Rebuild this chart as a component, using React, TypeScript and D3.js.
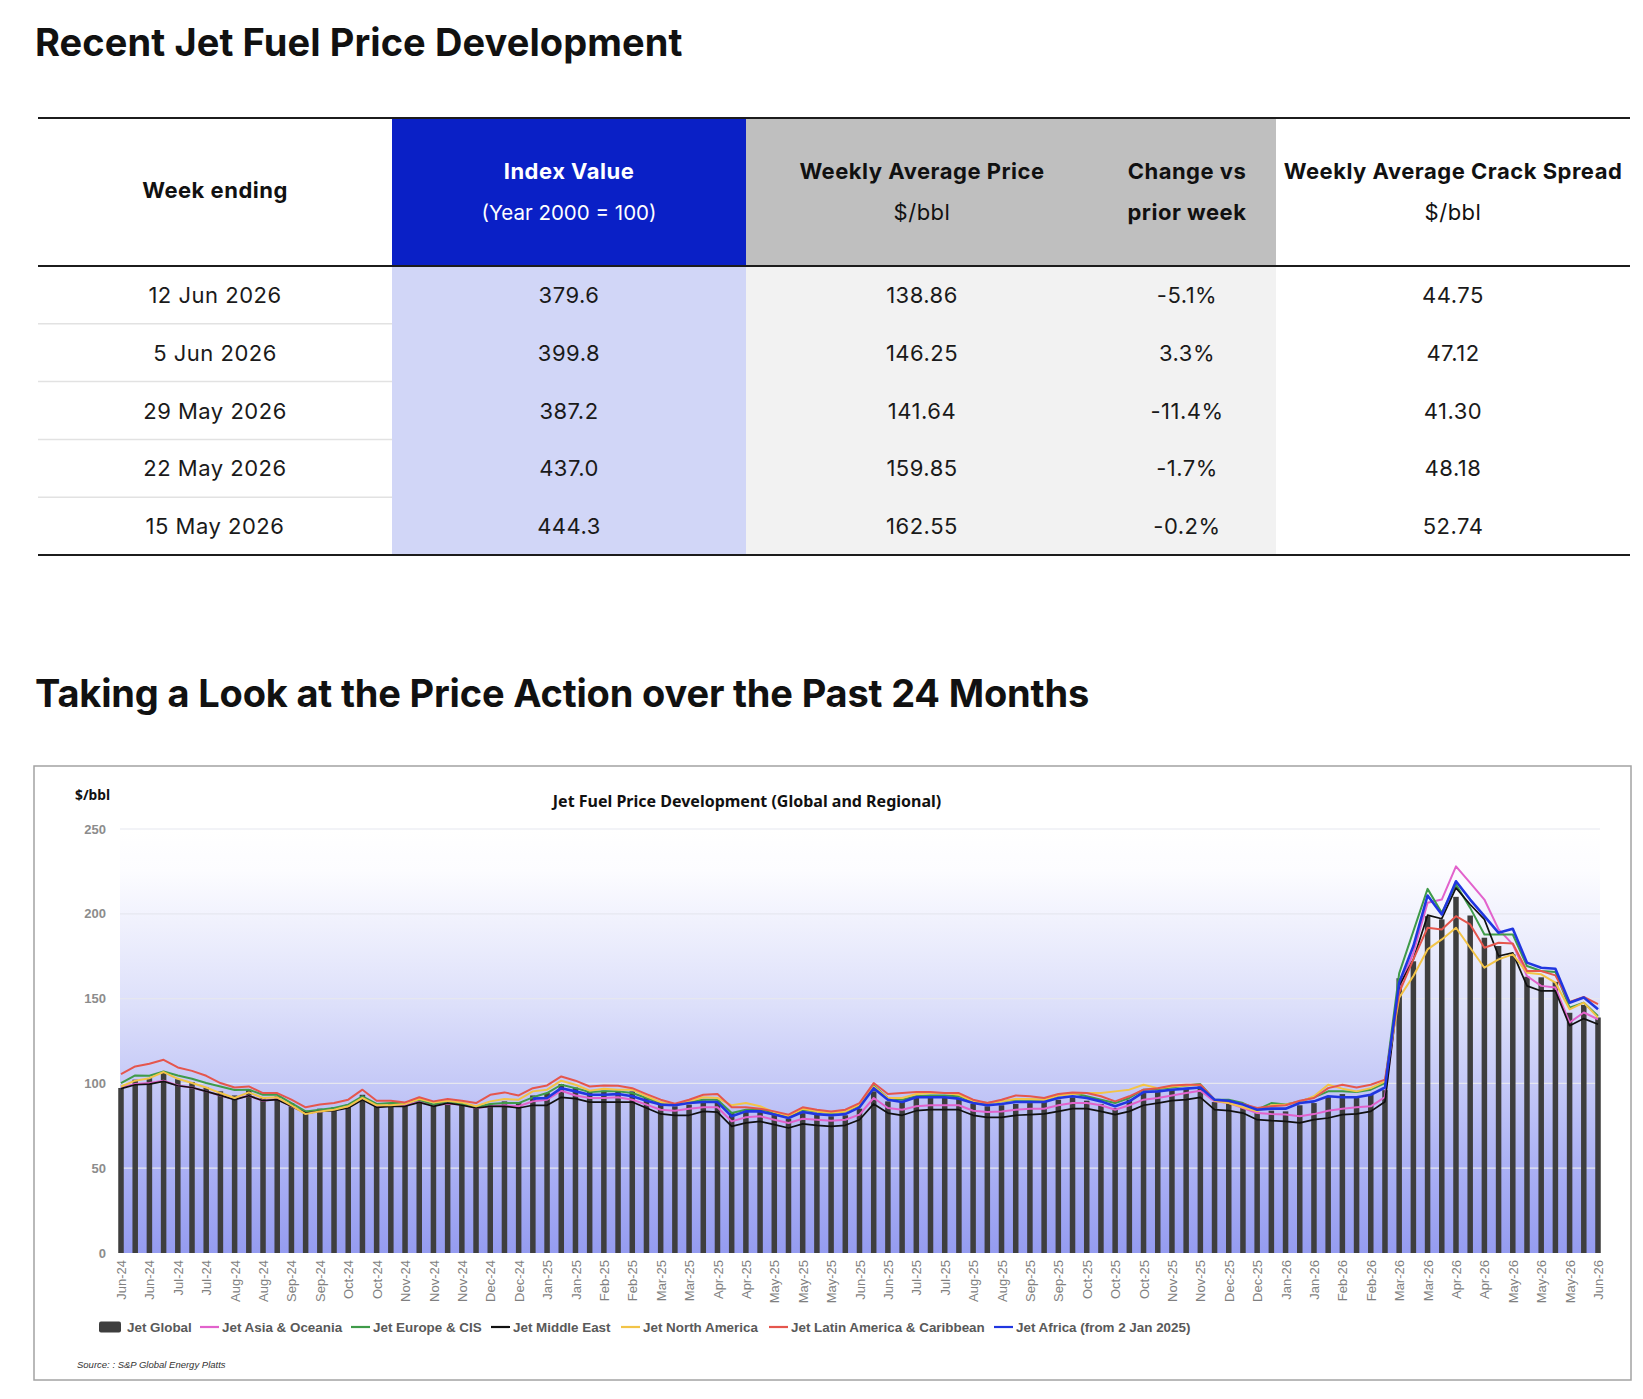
import React, { useEffect, useRef } from "react";
import * as d3 from "d3";

// ---- table data ----
const tableWeeks = ["12 Jun 2026", "5 Jun 2026", "29 May 2026", "22 May 2026", "15 May 2026"];
const tableIndex = [379.6, 399.8, 387.2, 437.0, 444.3];
const tablePrice = [138.86, 146.25, 141.64, 159.85, 162.55];
const tableChange = [-5.1, 3.3, -11.4, -1.7, -0.2];
const tableCrack = [44.75, 47.12, 41.3, 48.18, 52.74];

// ---- chart data (weekly, 14 Jun 2024 .. 12 Jun 2026) ----
const weekLabels = [
  "Jun-24", "Jun-24", "Jun-24", "Jul-24", "Jul-24", "Jul-24", "Jul-24",
  "Aug-24", "Aug-24", "Aug-24", "Aug-24", "Aug-24", "Sep-24", "Sep-24", "Sep-24", "Sep-24",
  "Oct-24", "Oct-24", "Oct-24", "Oct-24", "Nov-24", "Nov-24", "Nov-24", "Nov-24", "Nov-24",
  "Dec-24", "Dec-24", "Dec-24", "Dec-24", "Jan-25", "Jan-25", "Jan-25", "Jan-25", "Jan-25",
  "Feb-25", "Feb-25", "Feb-25", "Feb-25", "Mar-25", "Mar-25", "Mar-25", "Mar-25",
  "Apr-25", "Apr-25", "Apr-25", "Apr-25", "May-25", "May-25", "May-25", "May-25", "May-25",
  "Jun-25", "Jun-25", "Jun-25", "Jun-25", "Jul-25", "Jul-25", "Jul-25", "Jul-25",
  "Aug-25", "Aug-25", "Aug-25", "Aug-25", "Aug-25", "Sep-25", "Sep-25", "Sep-25", "Sep-25",
  "Oct-25", "Oct-25", "Oct-25", "Oct-25", "Oct-25", "Nov-25", "Nov-25", "Nov-25", "Nov-25",
  "Dec-25", "Dec-25", "Dec-25", "Dec-25", "Jan-26", "Jan-26", "Jan-26", "Jan-26", "Jan-26",
  "Feb-26", "Feb-26", "Feb-26", "Feb-26", "Mar-26", "Mar-26", "Mar-26", "Mar-26",
  "Apr-26", "Apr-26", "Apr-26", "Apr-26", "May-26", "May-26", "May-26", "May-26", "May-26",
  "Jun-26", "Jun-26",
];

const jetGlobal = [
  97.3, 102.2, 103.1, 106.1, 102.5, 100.8, 97.6, 95.3, 92.9, 96.3, 91.8, 92.4, 88.4, 83.9, 85.1, 85.9, 87.5, 93.3, 88.4, 88.4, 88.4, 89.4, 87.1,
  88.4, 87.5, 85.9, 87.5, 89.4, 89.0, 92.9, 94.3, 99.6, 97.6, 94.9, 95.7, 95.7, 95.3, 91.4, 87.9, 86.5, 87.5, 89.8, 89.8, 82.5, 83.9, 84.5,
  81.6, 79.2, 82.5, 81.9, 80.6, 81.2, 85.1, 95.3, 89.4, 89.0, 91.4, 91.8, 91.4, 91.0, 87.9, 86.5, 87.1, 87.9, 88.4, 89.0, 90.4, 91.8,
  89.8, 87.9, 85.5, 90.4, 94.3, 95.7, 96.3, 97.2, 98.2, 89.0, 89.0, 85.9, 82.5, 83.9, 83.5, 87.1, 88.4, 92.4, 93.7, 92.4, 93.7, 96.0,
  162.0, 172.0, 198.6, 196.7, 210.0, 199.0, 185.9, 181.0, 176.0, 162.9, 162.55, 159.85, 141.64, 146.25, 138.86,
];

const jetAsia = [
  97.6, 99.6, 100.2, 101.6, 98.8, 97.6, 95.3, 92.9, 90.8, 92.7, 89.8, 90.8, 86.5, 82.5, 83.5, 84.3, 85.9, 90.8, 86.3, 86.9, 87.1, 89.0, 87.1,
  88.0, 87.5, 85.5, 86.5, 87.1, 86.5, 89.4, 90.4, 95.7, 92.9, 91.4, 91.4, 91.8, 90.4, 87.5, 84.5, 83.9, 85.1, 85.9, 85.9, 77.6, 80.0, 80.6,
  78.6, 76.7, 79.2, 78.6, 78.0, 78.6, 81.6, 91.4, 85.5, 84.5, 86.5, 87.1, 87.1, 87.1, 83.9, 83.1, 83.5, 84.5, 85.1, 85.1, 87.1, 88.4,
  88.4, 87.1, 84.5, 87.1, 90.4, 91.4, 92.9, 94.3, 95.7, 89.4, 88.4, 85.5, 82.5, 81.9, 81.6, 80.6, 81.9, 83.9, 85.1, 85.9, 86.5, 92.0,
  156.5, 177.0, 206.5, 208.4, 228.0, 218.2, 208.4, 190.8, 182.0, 163.3, 157.5, 156.5, 135.9, 141.8, 137.8,
];

const jetEurope = [
  100.2, 104.7, 104.5, 107.0, 104.7, 102.7, 100.2, 98.2, 96.1, 96.3, 93.3, 93.3, 88.4, 83.5, 84.5, 85.5, 87.5, 92.4, 87.9, 88.4, 88.4, 90.4, 87.5,
  89.4, 87.9, 85.9, 87.9, 88.4, 88.4, 91.8, 94.3, 99.2, 97.2, 94.9, 95.3, 95.3, 94.3, 91.4, 88.4, 87.1, 89.0, 90.4, 90.4, 82.5, 84.5, 84.9,
  82.5, 80.6, 84.5, 83.5, 82.5, 83.5, 87.1, 98.8, 91.4, 90.4, 92.4, 92.9, 92.9, 92.4, 89.4, 88.4, 89.4, 90.4, 90.4, 90.4, 92.9, 94.3,
  92.4, 90.4, 88.4, 91.4, 96.3, 96.7, 97.6, 98.8, 99.6, 90.4, 90.4, 88.4, 84.5, 88.4, 87.5, 89.4, 91.8, 95.3, 95.3, 94.9, 96.3, 100.2,
  164.9, 189.8, 214.7, 200.6, 217.3, 203.5, 187.8, 187.8, 187.8, 169.2, 166.3, 165.7, 144.7, 147.6, 139.8,
];

const jetMiddleEast = [
  96.9, 99.2, 99.6, 101.2, 98.6, 97.6, 95.3, 92.9, 90.4, 92.7, 89.8, 90.4, 86.5, 82.5, 83.5, 83.9, 85.5, 90.4, 85.9, 86.5, 86.5, 88.8, 86.5,
  88.4, 87.1, 85.5, 86.5, 86.5, 85.5, 87.1, 87.1, 91.8, 91.0, 89.0, 89.0, 89.0, 89.0, 85.5, 82.0, 81.2, 81.2, 83.5, 83.1, 74.7, 76.7, 77.6,
  75.7, 73.7, 76.1, 75.3, 74.7, 75.3, 78.6, 87.9, 82.5, 81.2, 83.9, 84.5, 84.5, 84.5, 81.2, 80.0, 80.0, 81.2, 81.6, 82.0, 83.5, 85.1,
  85.1, 83.5, 81.6, 83.5, 87.1, 88.4, 89.8, 90.4, 91.8, 84.5, 83.9, 82.5, 78.6, 78.0, 77.6, 76.7, 78.6, 79.6, 81.6, 82.0, 83.5, 89.2,
  157.5, 173.1, 199.2, 197.1, 215.3, 205.5, 196.7, 175.1, 177.0, 157.5, 154.5, 154.5, 134.0, 138.2, 134.9,
];

const jetNorthAmerica = [
  98.2, 101.6, 103.1, 106.7, 102.7, 100.2, 97.6, 94.3, 91.4, 94.7, 91.4, 91.8, 87.1, 81.9, 83.5, 84.5, 86.5, 91.4, 87.1, 87.1, 87.9, 90.8, 88.8,
  89.8, 88.8, 86.5, 89.4, 90.8, 90.4, 95.3, 96.3, 101.6, 99.2, 95.7, 96.9, 96.3, 96.3, 92.4, 89.0, 87.1, 89.4, 91.8, 91.4, 87.1, 88.4, 86.5,
  83.1, 80.6, 85.1, 83.5, 82.9, 83.5, 87.5, 98.2, 91.4, 91.4, 93.7, 94.3, 94.3, 93.3, 89.4, 88.4, 89.4, 90.8, 90.8, 90.4, 92.9, 93.7,
  94.3, 94.3, 95.3, 96.3, 99.2, 97.2, 98.2, 98.8, 99.2, 89.8, 88.4, 85.9, 83.5, 87.1, 87.5, 89.0, 92.4, 99.2, 96.9, 95.3, 97.2, 101.2,
  150.6, 163.3, 179.0, 184.9, 191.8, 180.0, 168.2, 173.1, 176.1, 165.3, 164.3, 159.4, 143.7, 147.6, 138.8,
];

const jetLatAm = [
  105.5, 110.0, 111.6, 113.9, 109.4, 107.4, 104.5, 100.2, 97.6, 98.2, 94.3, 94.3, 90.4, 85.9, 87.5, 88.4, 90.4, 96.3, 89.8, 89.8, 88.8, 91.8, 89.4,
  90.8, 89.8, 88.4, 93.3, 94.7, 92.9, 97.2, 98.8, 104.1, 101.6, 98.2, 98.8, 98.6, 97.2, 93.7, 90.4, 88.0, 90.4, 93.3, 93.7, 85.9, 85.9, 85.1,
  83.5, 81.6, 85.9, 84.5, 83.5, 84.5, 88.4, 100.2, 93.7, 94.3, 94.9, 94.9, 94.3, 94.3, 90.4, 88.4, 90.4, 92.9, 92.4, 91.4, 93.7, 94.7,
  94.3, 92.4, 89.4, 92.4, 96.3, 97.2, 98.8, 99.2, 99.2, 90.4, 89.4, 87.9, 85.5, 86.5, 87.1, 89.8, 91.4, 97.2, 99.2, 97.6, 99.2, 102.2,
  153.5, 173.1, 191.8, 190.8, 198.6, 193.7, 180.0, 182.9, 182.5, 166.3, 166.3, 163.7, 148.0, 151.0, 146.7,
];

// Africa series only starts with the week of 2 Jan 2025
const jetAfrica = [
  null, null, null, null, null, null, null, null, null, null, null, null, null, null, null,
  null, null, null, null, null, null, null, null, null, null, null, null, null, null,
  91.0, 91.4, 97.2, 95.3, 93.3, 93.3, 93.7, 92.4, 89.8, 87.5, 87.1, 88.4, 89.0, 89.0, 80.6, 83.5, 83.5,
  81.6, 79.6, 83.1, 81.9, 81.2, 81.9, 85.9, 97.2, 90.4, 89.0, 91.8, 91.8, 91.8, 91.0, 88.4, 87.1, 87.9, 89.0, 89.0, 89.0, 91.4, 92.4,
  91.4, 89.4, 86.5, 89.4, 94.9, 95.3, 96.3, 96.9, 97.6, 90.4, 89.8, 87.5, 84.5, 85.1, 85.1, 88.4, 89.4, 92.4, 91.8, 91.8, 93.3, 97.6,
  159.4, 181.0, 210.8, 199.6, 219.2, 208.4, 198.6, 188.8, 191.2, 171.2, 168.2, 167.6, 147.6, 150.6, 143.7,
];

const yTicks = [0, 50, 100, 150, 200, 250];

const lineSeries = [
  { name: "Jet Asia & Oceania", values: jetAsia, color: "#e262cc", width: 2 },
  { name: "Jet Europe & CIS", values: jetEurope, color: "#3f9b49", width: 2 },
  { name: "Jet Middle East", values: jetMiddleEast, color: "#111111", width: 1.7 },
  { name: "Jet North America", values: jetNorthAmerica, color: "#f2c447", width: 2 },
  { name: "Jet Latin America & Caribbean", values: jetLatAm, color: "#e5564d", width: 2 },
  { name: "Jet Africa (from 2 Jan 2025)", values: jetAfrica, color: "#2036e0", width: 2.6 },
];

const PAGE_FONT = "Inter, 'Noto Sans', sans-serif";
const CHART_FONT = "'Liberation Sans', Arial, sans-serif";
const TITLE_FONT = "'Noto Sans', 'Open Sans', sans-serif";

const App = () => {
  const svgRef = useRef<SVGSVGElement>(null);

  useEffect(() => {
    draw();
  }, []);

  const draw = () => {
    const svg = d3.select(svgRef.current);
    svg.selectAll("*").remove();

    // page headings
    svg.append("text").attr("x", 35).attr("y", 56)
      .attr("font-family", PAGE_FONT).attr("font-weight", 700).attr("font-size", 38)
      .attr("letter-spacing", 0.1).attr("fill", "#111")
      .text("Recent Jet Fuel Price Development");

    svg.append("text").attr("x", 35).attr("y", 707)
      .attr("font-family", PAGE_FONT).attr("font-weight", 700).attr("font-size", 38)
      .attr("letter-spacing", -0.17).attr("fill", "#111")
      .text("Taking a Look at the Price Action over the Past 24 Months");

    drawTable(svg);
    drawChart(svg);
  };

  const drawTable = (svg) => {
    const cols = [38, 392, 746, 1098, 1276, 1630];
    const top = 118;
    const headBottom = 266;
    const bottom = 555;
    const mid = (a, b) => (a + b) / 2;

    const rowY = d3.scaleBand().domain(d3.range(tableWeeks.length)).range([headBottom, bottom]);

    // column fills
    svg.append("rect").attr("x", cols[1]).attr("y", top).attr("width", cols[2] - cols[1])
      .attr("height", headBottom - top).attr("fill", "#0a20c6");
    svg.append("rect").attr("x", cols[1]).attr("y", headBottom).attr("width", cols[2] - cols[1])
      .attr("height", bottom - headBottom).attr("fill", "#d1d6f7");
    svg.append("rect").attr("x", cols[2]).attr("y", top).attr("width", cols[4] - cols[2])
      .attr("height", headBottom - top).attr("fill", "#bfbfbf");
    svg.append("rect").attr("x", cols[2]).attr("y", headBottom).attr("width", cols[4] - cols[2])
      .attr("height", bottom - headBottom).attr("fill", "#f2f2f2");

    // row separators (first column only)
    svg.append("g").selectAll("line")
      .data(d3.range(1, tableWeeks.length))
      .join("line")
      .attr("x1", cols[0]).attr("x2", cols[1])
      .attr("y1", (i) => rowY(i)).attr("y2", (i) => rowY(i))
      .attr("stroke", "#e2e2e2").attr("stroke-width", 1.5);

    // heavy rules
    [top, headBottom, bottom].forEach((yy) => {
      svg.append("line").attr("x1", cols[0]).attr("x2", cols[5]).attr("y1", yy).attr("y2", yy)
        .attr("stroke", "#1c1c1c").attr("stroke-width", 2);
    });

    // [label, weight, baseline, size, letter-spacing]
    const headers = [
      { cx: mid(cols[0], cols[1]), lines: [["Week ending", 700, 198, 22, 0.5]], color: "#111" },
      { cx: mid(cols[1], cols[2]), lines: [["Index Value", 700, 179, 22, 0.5], ["(Year 2000 = 100)", 400, 220, 20.5, 0]], color: "#ffffff" },
      { cx: mid(cols[2], cols[3]), lines: [["Weekly Average Price", 700, 179, 22, 0.5], ["$/bbl", 400, 220, 22, 0.5]], color: "#111" },
      { cx: mid(cols[3], cols[4]), lines: [["Change vs", 700, 179, 22, 0.5], ["prior week", 700, 220, 22, 0.5]], color: "#111" },
      { cx: mid(cols[4], cols[5]), lines: [["Weekly Average Crack Spread", 700, 179, 22, 0.5], ["$/bbl", 400, 220, 22, 0.5]], color: "#111" },
    ];
    headers.forEach((h) => {
      h.lines.forEach(([label, weight, yy, size, ls]) => {
        svg.append("text").attr("x", h.cx).attr("y", yy).attr("text-anchor", "middle")
          .attr("font-family", PAGE_FONT).attr("font-size", size).attr("font-weight", weight)
          .attr("letter-spacing", ls)
          .attr("fill", h.color).text(label);
      });
    });

    const columns = [
      tableWeeks,
      tableIndex.map((d) => d.toFixed(1)),
      tablePrice.map((d) => d.toFixed(2)),
      tableChange.map((d) => d.toFixed(1) + "%"),
      tableCrack.map((d) => d.toFixed(2)),
    ];
    columns.forEach((vals, c) => {
      svg.append("g").selectAll("text")
        .data(vals)
        .join("text")
        .attr("x", mid(cols[c], cols[c + 1]))
        .attr("y", (d, i) => rowY(i) + rowY.bandwidth() / 2 + 8)
        .attr("text-anchor", "middle")
        .attr("font-family", PAGE_FONT).attr("font-size", 22).attr("letter-spacing", 0.5)
        .attr("fill", "#1a1a1a")
        .text((d) => d);
    });
  };

  const drawChart = (svg) => {
    const box = { left: 34, top: 766, right: 1631, bottom: 1380 };
    const plot = { left: 120, right: 1600 };

    svg.append("rect").attr("x", box.left).attr("y", box.top)
      .attr("width", box.right - box.left).attr("height", box.bottom - box.top)
      .attr("fill", "#ffffff").attr("stroke", "#a3a3a3").attr("stroke-width", 1.5);

    const x = d3.scalePoint().domain(d3.range(jetGlobal.length)).range([121, 1598]);
    const y = d3.scaleLinear().domain([0, 250]).range([1253, 829]);

    // plot background gradient
    const grad = svg.append("defs").append("linearGradient")
      .attr("id", "plotBg").attr("x1", 0).attr("y1", 0).attr("x2", 0).attr("y2", 1);
    [
      [0, "#ffffff"], [0.1, "#fcfcff"], [0.22, "#f0f1fd"], [0.42, "#dcdffa"],
      [0.6, "#c5c9f7"], [0.8, "#aab0f4"], [1, "#959cf0"],
    ].forEach(([o, c]) => grad.append("stop").attr("offset", o).attr("stop-color", c));

    svg.append("rect").attr("x", plot.left).attr("y", y(250))
      .attr("width", plot.right - plot.left).attr("height", y(0) - y(250))
      .attr("fill", "url(#plotBg)");

    // gridlines
    svg.append("g").selectAll("line")
      .data(yTicks.filter((t) => t > 0))
      .join("line")
      .attr("x1", plot.left).attr("x2", plot.right)
      .attr("y1", (d) => y(d)).attr("y2", (d) => y(d))
      .attr("stroke", "#e6e7ef").attr("stroke-width", 1.2);

    // y labels
    svg.append("g").selectAll("text")
      .data(yTicks)
      .join("text")
      .attr("x", 106).attr("y", (d) => y(d)).attr("dy", "0.35em")
      .attr("text-anchor", "end")
      .attr("font-family", CHART_FONT).attr("font-size", 13).attr("font-weight", 700)
      .attr("fill", "#8c8c8c")
      .text((d) => d);

    svg.append("text").attr("x", 75).attr("y", 800)
      .attr("font-family", TITLE_FONT).attr("font-size", 13.8).attr("font-weight", 700)
      .attr("fill", "#111").text("$/bbl");

    svg.append("text").attr("x", 747).attr("y", 807).attr("text-anchor", "middle")
      .attr("font-family", TITLE_FONT).attr("font-size", 16).attr("font-weight", 700)
      .attr("fill", "#111").text("Jet Fuel Price Development (Global and Regional)");

    // bars: Jet Global
    svg.append("g")
      .attr("fill", "#3e3e3e")
      .selectAll("rect")
      .data(jetGlobal)
      .join("rect")
      .attr("x", (d, i) => x(i) - 2.75)
      .attr("y", (d) => y(d))
      .attr("width", 5.5)
      .attr("height", (d) => y(0) - y(d));

    // regional lines
    const line = d3.line()
      .defined((d) => d != null)
      .x((d, i) => x(i))
      .y((d) => y(d));

    lineSeries.forEach((s) => {
      svg.append("path")
        .datum(s.values)
        .attr("fill", "none")
        .attr("stroke", s.color)
        .attr("stroke-width", s.width)
        .attr("stroke-linejoin", "round")
        .attr("d", line);
    });

    // x axis
    const xAxis = svg.append("g")
      .attr("transform", "translate(0," + y(0) + ")")
      .call(
        d3.axisBottom(x)
          .tickValues(d3.range(0, jetGlobal.length, 2))
          .tickFormat((i) => weekLabels[i])
          .tickSize(0)
      );
    xAxis.select(".domain").remove();
    xAxis.selectAll("text")
      .attr("transform", "rotate(-90)")
      .attr("x", -7).attr("y", 0).attr("dy", "0.35em")
      .attr("text-anchor", "end")
      .attr("font-family", CHART_FONT).attr("font-size", 13)
      .attr("fill", "#7f7f7f");

    // legend
    const legendY = 1327;
    const legendX = [99, 200, 351, 491, 621, 769, 994];
    const lg = svg.append("g").attr("font-family", CHART_FONT).attr("font-size", 13.4)
      .attr("font-weight", 700).attr("fill", "#595959");
    lg.append("rect").attr("x", legendX[0]).attr("y", legendY - 5.5).attr("width", 22).attr("height", 11)
      .attr("rx", 2).attr("fill", "#3e3e3e");
    lg.append("text").attr("x", legendX[0] + 28).attr("y", legendY).attr("dy", "0.35em").text("Jet Global");
    lineSeries.forEach((s, k) => {
      const lx = legendX[k + 1];
      lg.append("line").attr("x1", lx).attr("x2", lx + 19).attr("y1", legendY).attr("y2", legendY)
        .attr("stroke", s.color).attr("stroke-width", 2.2);
      lg.append("text").attr("x", lx + 22).attr("y", legendY).attr("dy", "0.35em").text(s.name);
    });

    svg.append("text").attr("x", 77).attr("y", 1368)
      .attr("font-family", CHART_FONT).attr("font-size", 9.5).attr("font-style", "italic")
      .attr("fill", "#333").text("Source: : S&P Global Energy Platts");
  };

  return (
    <div style={{ position: "absolute", left: 0, top: 0, background: "#fff" }}>
      <svg ref={svgRef} width={1643} height={1399} style={{ display: "block" }}></svg>
    </div>
  );
};

export default App;
